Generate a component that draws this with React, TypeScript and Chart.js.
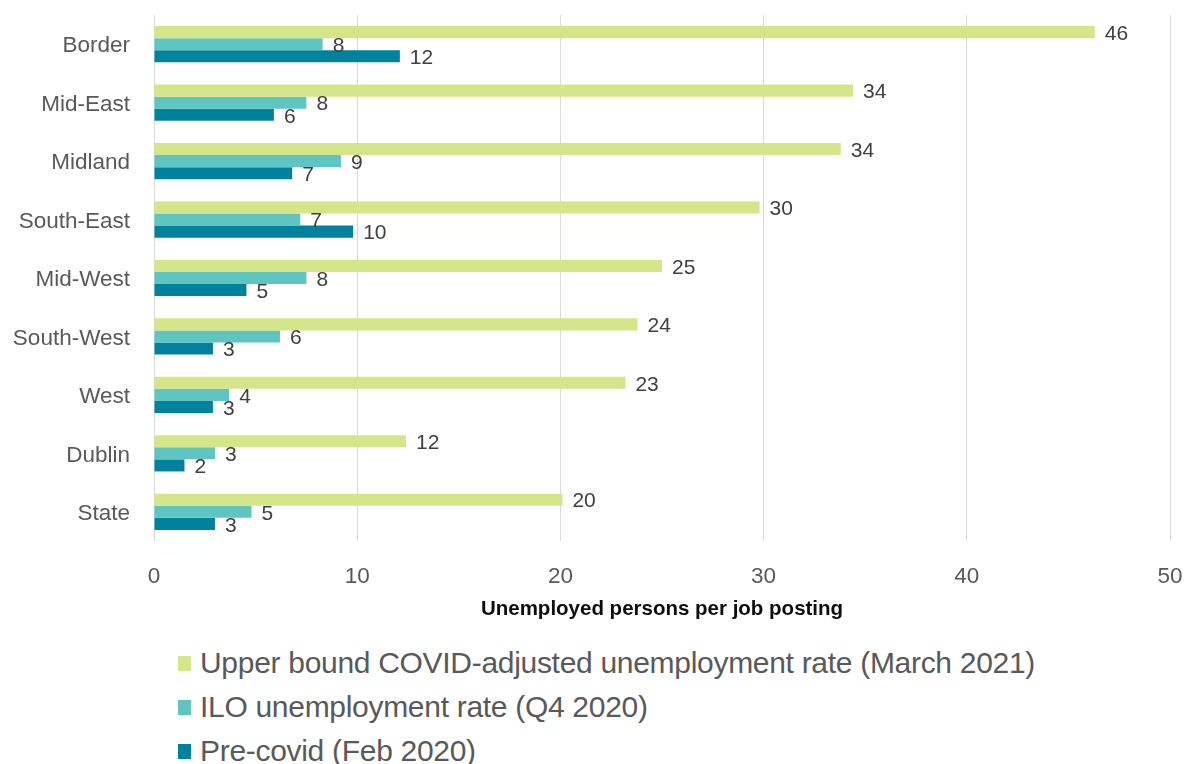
import React, { useEffect, useRef } from "react";
import { Chart, registerables } from "chart.js";

Chart.register(...registerables);

const categories = ["Border", "Mid-East", "Midland", "South-East", "Mid-West", "South-West", "West", "Dublin", "State"];
const upperBound = [46.3, 34.4, 33.8, 29.8, 25.0, 23.8, 23.2, 12.4, 20.1];
const iloRate = [8.3, 7.5, 9.2, 7.2, 7.5, 6.2, 3.7, 3.0, 4.8];
const preCovid = [12.1, 5.9, 6.8, 9.8, 4.55, 2.9, 2.9, 1.5, 3.0];
const seriesNames = [
  "Upper bound COVID-adjusted unemployment rate (March 2021)",
  "ILO unemployment rate (Q4 2020)",
  "Pre-covid (Feb 2020)",
];
const seriesColors = ["#d5e589", "#5fc5c1", "#00829e"];
const xTicks = [0, 10, 20, 30, 40, 50];
const axisTitle = "Unemployed persons per job posting";

const FONT = "'Liberation Sans', Arial, sans-serif";

const valueLabels = {
  id: "valueLabels",
  afterDatasetsDraw(chart: any) {
    const ctx = chart.ctx;
    ctx.save();
    ctx.font = `21px ${FONT}`;
    ctx.fillStyle = "#404040";
    ctx.textAlign = "left";
    ctx.textBaseline = "middle";
    chart.data.datasets.forEach((ds: any, di: number) => {
      const meta = chart.getDatasetMeta(di);
      meta.data.forEach((bar: any, i: number) => {
        const v = ds.data[i];
        ctx.fillText(String(Math.round(v)), bar.x + 10, bar.y + 2);
      });
    });
    ctx.restore();
  },
};

export default function App() {
  const ref = useRef<HTMLCanvasElement>(null);
  useEffect(() => {
    const data = [upperBound, iloRate, preCovid];
    const chart = new Chart(ref.current!, {
      type: "bar",
      data: {
        labels: categories,
        datasets: data.map((d, i) => ({
          label: seriesNames[i],
          data: d,
          backgroundColor: seriesColors[i],
          borderWidth: 0,
          barPercentage: 1,
          categoryPercentage: 0.62,
        })),
      },
      options: {
        indexAxis: "y",
        animation: false,
        responsive: false,
        maintainAspectRatio: false,
        layout: { padding: { top: 15, right: 16, left: 0, bottom: 0 } },
        plugins: { legend: { display: false }, tooltip: { enabled: false } },
        scales: {
          x: {
            min: 0,
            max: 50,
            afterBuildTicks: (s: any) => {
              s.ticks = xTicks.map((v) => ({ value: v }));
            },
            afterFit: (s: any) => {
              s.height = 89;
              s.paddingLeft = 0;
              s.paddingRight = 0;
            },
            grid: { color: "#d9d9d9", drawTicks: false, lineWidth: 1 },
            border: { display: false },
            ticks: { color: "#595959", font: { size: 22.5, family: FONT }, padding: 22 },
            title: {
              display: true,
              text: axisTitle,
              color: "#0d0d0d",
              font: { size: 20.5, weight: "bold", family: FONT },
              padding: { top: 0, bottom: 8 },
            },
          },
          y: {
            afterFit: (s: any) => {
              s.width = 154;
              s.paddingTop = 0;
              s.paddingBottom = 0;
            },
            grid: { display: false, drawTicks: false },
            border: { display: false },
            ticks: { color: "#595959", font: { size: 22.5, family: FONT }, padding: 24, labelOffset: 2 },
          },
        },
      },
      plugins: [valueLabels],
    });
    return () => chart.destroy();
  }, []);

  return (
    <div style={{ position: "absolute", left: 0, top: 0, width: 1186, height: 764, background: "#fff", fontFamily: FONT }}>
      <canvas ref={ref} width={1186} height={630} style={{ display: "block" }} />
      {seriesNames.map((n, i) => (
        <div
          key={n}
          style={{
            position: "absolute",
            left: 178,
            top: 645 + i * 44,
            height: 36,
            display: "flex",
            alignItems: "center",
            color: "#595959",
            fontSize: 30,
            letterSpacing: -0.3,
            whiteSpace: "nowrap",
          }}
        >
          <span style={{ display: "inline-block", width: 13, height: 15, background: seriesColors[i], marginRight: 9 }} />
          {n}
        </div>
      ))}
    </div>
  );
}
